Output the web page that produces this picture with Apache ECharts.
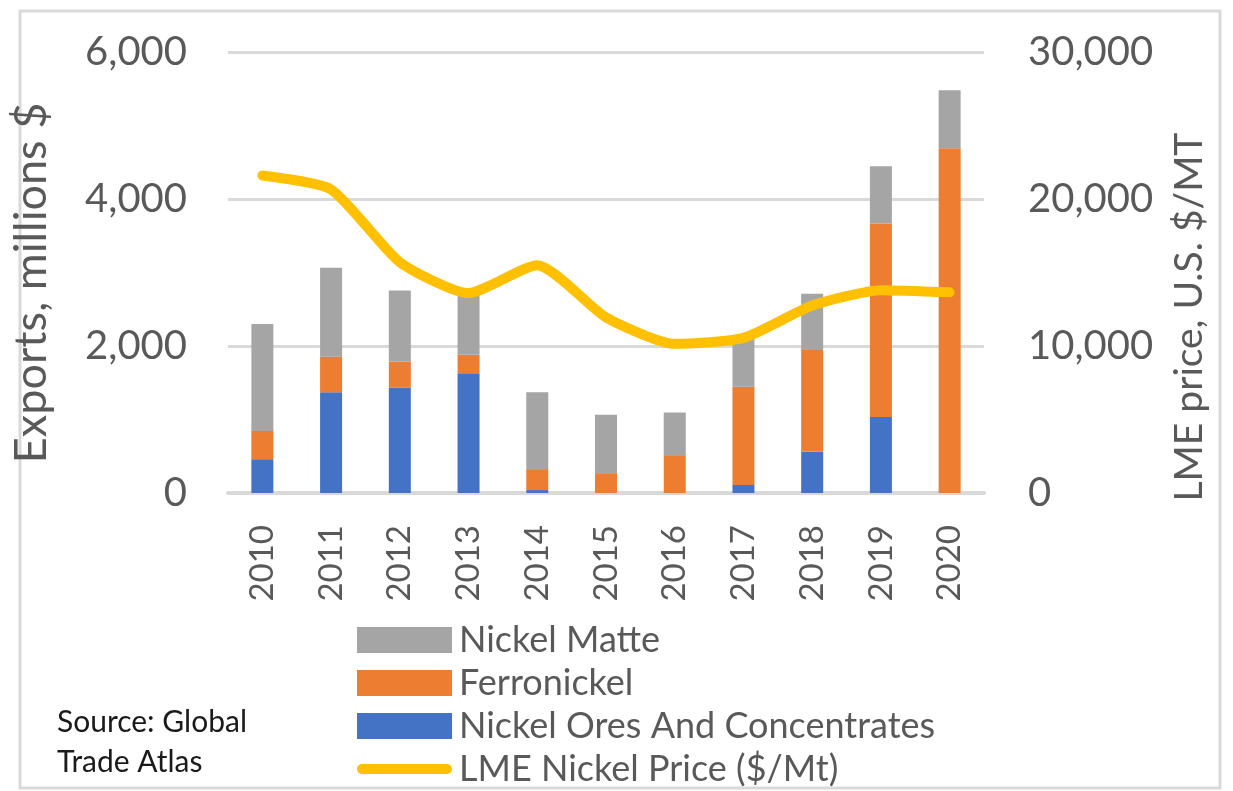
<!DOCTYPE html>
<html>
<head>
<meta charset="utf-8">
<script src="https://cdn.jsdelivr.net/npm/echarts@6/dist/echarts.min.js"></script>
<style>
  html, body { margin: 0; padding: 0; background: #fff; }
  #chart { width: 1233px; height: 791px; }
</style>
</head>
<body>
<div id="chart"></div>
<script>
// Nickel exports by product (millions $) and LME nickel price ($/Mt)
const years = ['2010', '2011', '2012', '2013', '2014', '2015', '2016', '2017', '2018', '2019', '2020'];
const oresConcentrates = [460, 1370, 1435, 1630, 40, 0, 0, 110, 560, 1035, 0];
const ferronickel = [385, 485, 350, 250, 285, 270, 515, 1335, 1385, 2630, 4690];
const nickelMatte = [1455, 1210, 970, 820, 1045, 795, 580, 655, 765, 780, 790];
const lmePrice = [21600, 20650, 15700, 13600, 15500, 11950, 10150, 10550, 12750, 13800, 13650];
const leftTicks = { min: 0, max: 6000, interval: 2000 };
const rightTicks = { min: 0, max: 30000, interval: 10000 };

const FONT = 'Lato, "Open Sans", sans-serif';
const TEXT = '#595959';
const GRID = '#D9D9D9';
const fmt = v => v.toLocaleString('en-US');

// thick rounded stroke used as the price line's legend key (box padded to 95x26)
const LINE_KEY = 'path://M0,0M95,26M5,8H90A5,5,0,0,1,90,18H5A5,5,0,0,1,5,8Z';

const chart = echarts.init(document.getElementById('chart'), null, { renderer: 'canvas' });

chart.setOption({
  backgroundColor: '#fff',
  animation: false,
  textStyle: { fontFamily: FONT },
  grid: { left: 228, right: 249, top: 52, bottom: 298, containLabel: false },
  legend: {
    orient: 'vertical',
    left: 357,
    top: 622,
    padding: 0,
    itemWidth: 95,
    itemHeight: 26,
    itemGap: 7,
    selectedMode: false,
    textStyle: { fontFamily: FONT, fontSize: 36, color: TEXT, lineHeight: 26, padding: [0, 0, 0, 2] },
    data: [
      { name: 'Nickel Matte', icon: 'rect' },
      { name: 'Ferronickel', icon: 'rect' },
      { name: 'Nickel Ores And Concentrates', icon: 'rect' },
      { name: 'LME Nickel Price ($/Mt)', icon: LINE_KEY, itemStyle: { color: '#FFC000', borderWidth: 0 } }
    ]
  },
  xAxis: {
    type: 'category',
    data: years,
    axisLine: { lineStyle: { color: GRID, width: 4 } },
    axisTick: { show: false },
    axisLabel: { rotate: 90, margin: 32, fontSize: 33, color: TEXT, fontFamily: FONT }
  },
  yAxis: [
    {
      type: 'value',
      min: leftTicks.min, max: leftTicks.max, interval: leftTicks.interval,
      axisLine: { show: false },
      axisTick: { show: false },
      splitLine: { lineStyle: { color: GRID, width: 3 } },
      axisLabel: { margin: 41, fontSize: 40, color: TEXT, fontFamily: FONT, formatter: fmt }
    },
    {
      type: 'value',
      min: rightTicks.min, max: rightTicks.max, interval: rightTicks.interval,
      axisLine: { show: false },
      axisTick: { show: false },
      splitLine: { show: false },
      axisLabel: { margin: 44, fontSize: 40, color: TEXT, fontFamily: FONT, formatter: fmt }
    }
  ],
  series: [
    {
      name: 'Nickel Ores And Concentrates', type: 'bar', stack: 'exports',
      data: oresConcentrates, barWidth: 22, itemStyle: { color: '#4472C4' }
    },
    {
      name: 'Ferronickel', type: 'bar', stack: 'exports',
      data: ferronickel, barWidth: 22, itemStyle: { color: '#ED7D31' }
    },
    {
      name: 'Nickel Matte', type: 'bar', stack: 'exports',
      data: nickelMatte, barWidth: 22, itemStyle: { color: '#A5A5A5' }
    },
    {
      name: 'LME Nickel Price ($/Mt)', type: 'line', yAxisIndex: 1,
      data: lmePrice, smooth: 0.2, symbol: 'none', showSymbol: false,
      lineStyle: { color: '#FFC000', width: 10, cap: 'round', join: 'round' },
      itemStyle: { color: '#FFC000' }, z: 5
    }
  ],
  graphic: [
    {
      type: 'rect', silent: true, z: -1,
      shape: { x: 20, y: 11, width: 1200, height: 777 },
      style: { fill: 'none', stroke: '#D9D9D9', lineWidth: 3 }
    },
    {
      type: 'text', x: 31, y: 283, rotation: Math.PI / 2,
      style: { text: 'Exports, millions $', font: '45px ' + FONT, fill: TEXT, textAlign: 'center', textVerticalAlign: 'middle' }
    },
    {
      type: 'text', x: 1189, y: 317, rotation: Math.PI / 2,
      style: { text: 'LME price, U.S. $/MT', font: '39px ' + FONT, fill: TEXT, textAlign: 'center', textVerticalAlign: 'middle' }
    },
    {
      type: 'text', x: 57, y: 722,
      style: { text: 'Source: Global', font: '30px ' + FONT, fill: '#1a1a1a', textAlign: 'left', textVerticalAlign: 'middle' }
    },
    {
      type: 'text', x: 57, y: 762,
      style: { text: 'Trade Atlas', font: '30px ' + FONT, fill: '#1a1a1a', textAlign: 'left', textVerticalAlign: 'middle' }
    }
  ]
});
</script>
</body>
</html>
